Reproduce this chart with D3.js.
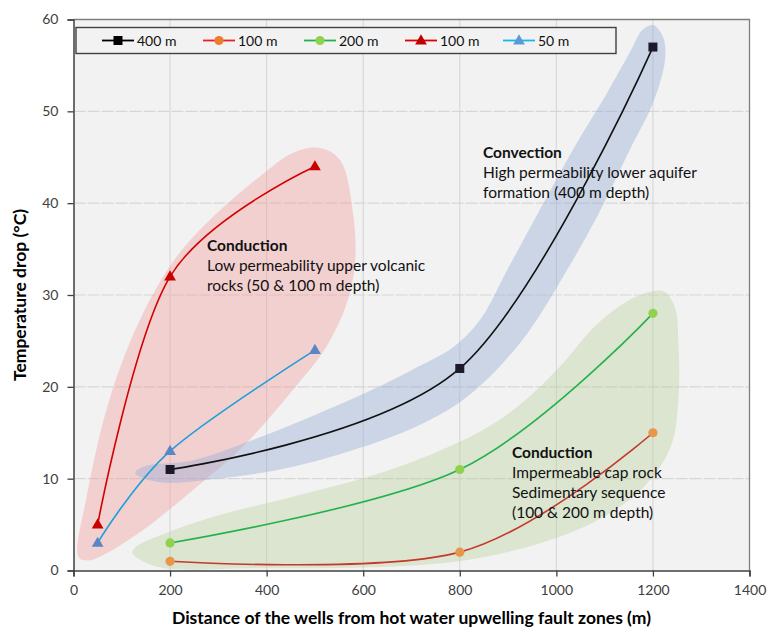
<!DOCTYPE html>
<html>
<head>
<meta charset="utf-8">
<script src="https://cdn.jsdelivr.net/npm/d3@7"></script>
<style>
  body { margin: 0; background: #fff; }
  svg { font-family: Lato, "Open Sans", sans-serif; }
</style>
</head>
<body>
<script>
  // Data
  var xTicks = [0, 200, 400, 600, 800, 1000, 1200, 1400];
  var yTicks = [0, 10, 20, 30, 40, 50, 60];

  var deep400 = [[200, 11], [800, 22], [1200, 57]];
  var cap100 = [[200, 1], [800, 2], [1200, 15]];
  var cap200 = [[200, 3], [800, 11], [1200, 28]];
  var volc100 = [[50, 5], [200, 32], [500, 44]];
  var volc50 = [[50, 3], [200, 13], [500, 24]];

  var legendLabels = ["400 m", "100 m", "200 m", "100 m", "50 m"];

  // hand drawn zones (data units)
  var pinkZone = [[10, 1.5], [27, 8], [76, 18.9], [144, 28], [214, 34.2], [283, 38.2], [386, 42.9],
    [455, 45.5], [510, 46], [552, 44.7], [579, 38.9], [583, 33.5], [566, 29.1], [524, 24.4],
    [455, 19.7], [351, 13.5], [248, 8.8], [144, 4.4], [55, 1.5], [27, 1.1]];
  var blueZone = [[128, 10.6], [179, 9.6], [283, 9.9], [455, 11.3], [635, 14.1], [738, 16.4],
    [807, 18.6], [877, 21.9], [945, 26.2], [1014, 32], [1084, 38.5], [1152, 45.8], [1200, 50.9],
    [1225, 55.6], [1221, 58.1], [1200, 59.4], [1179, 58.9], [1152, 56.4], [1105, 52], [1034, 45.8],
    [966, 39.3], [898, 32.7], [842, 27.3], [786, 24.3], [703, 21.9], [635, 20.1], [525, 17.5],
    [386, 14.5], [248, 12], [144, 11.3]];
  var greenZone = [[122, 1.9], [174, 0.4], [372, 0.25], [610, 0.35], [809, 1.1], [967, 3], [1086, 5.5],
    [1181, 9.1], [1237, 13.5], [1253, 18.9], [1253, 24.4], [1245, 28.7], [1221, 30.4], [1165, 29.8],
    [1086, 26.9], [1007, 22.2], [928, 18.2], [848, 15.3], [729, 12.4], [610, 10.2], [452, 8],
    [293, 5.9], [174, 3.7], [130, 2.6]];

  var series = [
    { label: legendLabels[0], data: deep400, line: "#111111", fill: "#1c1a2a", legLine: "#000", legFill: "#000", shape: "square" },
    { label: legendLabels[1], data: cap100, line: "#c4392a", fill: "#e8964c", legLine: "#e8221f", legFill: "#ed7d31", shape: "circle" },
    { label: legendLabels[2], data: cap200, line: "#22b14c", fill: "#92d050", legLine: "#22b14c", legFill: "#92d050", shape: "circle" },
    { label: legendLabels[3], data: volc100, line: "#d40000", fill: "#c80000", legLine: "#e00000", legFill: "#c00000", shape: "triangle" },
    { label: legendLabels[4], data: volc50, line: "#1e9fd8", fill: "#5b86c5", legLine: "#1ab5f0", legFill: "#5b9bd5", shape: "triangle" }
  ];

  (function() {
  var W = 769, H = 628;
  var pl = 73.5, pr = 749.5, pt = 19.5, pb = 570.5;

  var svg = d3.select("body").append("svg")
    .attr("width", W)
    .attr("height", H);

  var x = d3.scaleLinear().domain([0, 1400]).range([pl, pr]);
  var y = d3.scaleLinear().domain([0, 60]).range([pb, pt]);

  // plot background
  svg.append("rect")
    .attr("x", pl).attr("y", pt)
    .attr("width", pr - pl).attr("height", pb - pt)
    .attr("fill", "#f2f2f2");

  // gridlines
  svg.append("g").selectAll("line").data(xTicks.slice(1, -1)).join("line")
    .attr("x1", d => x(d)).attr("x2", d => x(d))
    .attr("y1", pt).attr("y2", pb)
    .attr("stroke", "#d4d4d4").attr("stroke-width", 1);
  svg.append("g").selectAll("line").data(yTicks.slice(1, -1)).join("line")
    .attr("x1", pl).attr("x2", pr)
    .attr("y1", d => y(d)).attr("y2", d => y(d))
    .attr("stroke", "#d6d6d6").attr("stroke-width", 1.2)
    .attr("stroke-dasharray", "12,2");

  // zones
  var zoneLine = d3.line().x(d => x(d[0])).y(d => y(d[1])).curve(d3.curveCatmullRomClosed.alpha(0.5));
  svg.append("path").datum(greenZone).attr("d", zoneLine)
    .attr("fill", "#b6d099").attr("fill-opacity", 0.38);
  svg.append("path").datum(pinkZone).attr("d", zoneLine)
    .attr("fill", "#f39191").attr("fill-opacity", 0.35);
  svg.append("path").datum(blueZone).attr("d", zoneLine)
    .attr("fill", "#93aad4").attr("fill-opacity", 0.4);

  // frame (top and right)
  svg.append("path")
    .attr("d", "M" + pl + "," + pt + "H" + pr + "V" + pb)
    .attr("fill", "none").attr("stroke", "#7f7f7f").attr("stroke-width", 1.3);

  // axes
  var xAxis = svg.append("g")
    .attr("transform", "translate(0," + pb + ")")
    .call(d3.axisBottom(x).tickValues(xTicks).tickSize(6).tickPadding(9).tickFormat(d3.format("d")));
  var yAxis = svg.append("g")
    .attr("transform", "translate(" + pl + ",0)")
    .call(d3.axisLeft(y).tickValues(yTicks).tickSize(6).tickPadding(9));
  [xAxis, yAxis].forEach(function(a) {
    a.select(".domain").attr("stroke", "#404040").attr("stroke-width", 1.5);
    a.selectAll(".tick line").attr("stroke", "#404040").attr("stroke-width", 1.3);
    a.selectAll(".tick text").attr("fill", "#404040").style("font-size", "14px").style("font-family", "Lato");
  });

  // axis titles
  svg.append("text")
    .attr("x", (pl + pr) / 2).attr("y", 624)
    .attr("text-anchor", "middle")
    .style("font-weight", "bold").style("font-size", "17.5px")
    .text("Distance of the wells from hot water upwelling fault zones (m)");
  svg.append("text")
    .attr("transform", "translate(26," + ((pt + pb) / 2) + ") rotate(-90)")
    .attr("text-anchor", "middle")
    .style("font-weight", "bold").style("font-size", "17.5px")
    .text("Temperature drop (\u00b0C)");

  // series
  var line = d3.line().x(d => x(d[0])).y(d => y(d[1])).curve(d3.curveCardinal.tension(0));

  function marker(g, shape, fill, cx, cy) {
    if (shape === "square") {
      g.append("rect").attr("x", cx - 4.5).attr("y", cy - 4.5).attr("width", 9).attr("height", 9).attr("fill", fill);
    } else if (shape === "circle") {
      g.append("circle").attr("cx", cx).attr("cy", cy).attr("r", 4.6).attr("fill", fill);
    } else {
      g.append("path").attr("d", d3.symbol(d3.symbolTriangle, 60)()).attr("transform", "translate(" + cx + "," + (cy + 0.5) + ")").attr("fill", fill);
    }
  }

  series.forEach(function(s) {
    var g = svg.append("g");
    g.append("path").datum(s.data).attr("d", line)
      .attr("fill", "none").attr("stroke", s.line).attr("stroke-width", 1.6);
    s.data.forEach(function(d) { marker(g, s.shape, s.fill, x(d[0]), y(d[1])); });
  });

  // legend
  var leg = svg.append("g");
  leg.append("rect").attr("x", 76).attr("y", 27.5).attr("width", 540).attr("height", 26)
    .attr("fill", "#f2f2f2").attr("stroke", "#404040").attr("stroke-width", 1.4);
  var legX = [102, 203, 304, 405, 503];
  series.forEach(function(s, i) {
    var g = leg.append("g").attr("transform", "translate(" + legX[i] + ",40.5)");
    g.append("line").attr("x1", 0).attr("x2", 32).attr("stroke", s.legLine).attr("stroke-width", 1.8);
    marker(g, s.shape, s.legFill, 16, 0);
    g.append("text").attr("x", 35).attr("y", 5).style("font-size", "14px").attr("fill", "#111").text(s.label);
  });

  // annotations
  var notes = [
    { x: 207, y: 251, lines: ["Conduction", "Low permeability upper volcanic", "rocks (50 & 100 m depth)"] },
    { x: 483, y: 158, lines: ["Convection", "High permeability lower aquifer", "formation (400 m depth)"] },
    { x: 512, y: 458, lines: ["Conduction", "Impermeable cap rock", "Sedimentary sequence", "(100 & 200 m depth)"] }
  ];
  notes.forEach(function(n) {
    var t = svg.append("text").attr("x", n.x).attr("y", n.y).attr("fill", "#111");
    n.lines.forEach(function(l, i) {
      t.append("tspan").attr("x", n.x).attr("dy", i === 0 ? 0 : 20)
        .style("font-weight", i === 0 ? "bold" : "normal")
        .style("font-size", "15.5px")
        .text(l);
    });
  });
  })();
</script>
</body>
</html>
